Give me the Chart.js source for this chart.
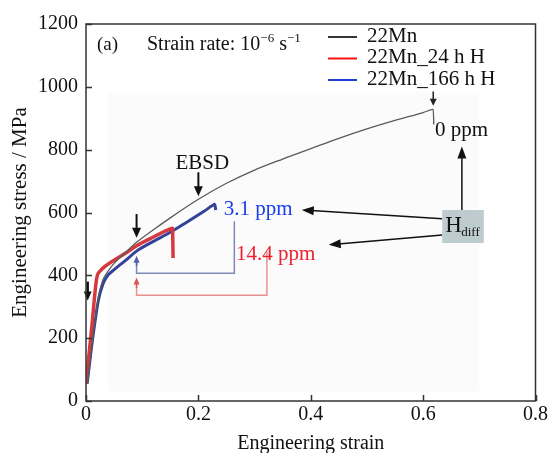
<!DOCTYPE html>
<html>
<head>
<meta charset="utf-8">
<script src="https://cdn.jsdelivr.net/npm/chart.js@4.4.1/dist/chart.umd.min.js"></script>
<style>
html,body{margin:0;padding:0;background:#fff;}
#wrap{width:550px;height:453px;}
</style>
</head>
<body>
<div id="wrap"><canvas id="c" width="550" height="453"></canvas></div>
<script>
// ---- data ----
const seriesNames = ['22Mn', '22Mn_24 h H', '22Mn_166 h H'];
const strain22Mn = [0.003, 0.012, 0.022, 0.03, 0.038, 0.05, 0.07, 0.09, 0.12, 0.15, 0.2, 0.25, 0.3, 0.35, 0.4, 0.45, 0.5, 0.55, 0.6, 0.618, 0.619];
const stress22Mn = [60, 200, 330, 385, 410, 438, 472, 505, 545, 583, 642, 693, 735, 770, 803, 836, 866, 893, 918, 928, 880];
const strain24h = [0.0, 0.01, 0.019, 0.026, 0.035, 0.05, 0.07, 0.09, 0.12, 0.15, 0.154, 0.155];
const stress24h = [55, 230, 390, 415, 430, 448, 470, 494, 522, 548, 550, 455];
const strain166h = [0.002, 0.012, 0.022, 0.03, 0.038, 0.05, 0.07, 0.09, 0.12, 0.15, 0.18, 0.21, 0.225, 0.229, 0.231];
const stress166h = [55, 200, 320, 372, 398, 418, 447, 477, 508, 537, 570, 604, 622, 626, 608];
const xTicks = [0, 0.2, 0.4, 0.6, 0.8];
const yTicks = [0, 200, 400, 600, 800, 1000, 1200];
const hContent = ['0 ppm', '3.1 ppm', '14.4 ppm'];

const toPts = (xs, ys) => xs.map((x, i) => ({x: x, y: ys[i]}));
const SERIF = '"Liberation Serif", "Times New Roman", serif';

function arrow(ctx, x1, y1, x2, y2, color, lw, hl, hw) {
  const a = Math.atan2(y2 - y1, x2 - x1);
  ctx.save();
  ctx.strokeStyle = color; ctx.fillStyle = color; ctx.lineWidth = lw;
  ctx.beginPath();
  ctx.moveTo(x1, y1);
  ctx.lineTo(x2 - Math.cos(a) * hl * 0.8, y2 - Math.sin(a) * hl * 0.8);
  ctx.stroke();
  ctx.beginPath();
  ctx.moveTo(x2, y2);
  ctx.lineTo(x2 - Math.cos(a) * hl + Math.sin(a) * hw, y2 - Math.sin(a) * hl - Math.cos(a) * hw);
  ctx.lineTo(x2 - Math.cos(a) * hl - Math.sin(a) * hw, y2 - Math.sin(a) * hl + Math.cos(a) * hw);
  ctx.closePath();
  ctx.fill();
  ctx.restore();
}

const decor = {
  id: 'decor',
  beforeDatasetsDraw(chart) {
    const {ctx, scales: {x, y}} = chart;
    ctx.save();
    ctx.fillStyle = '#fbfbfb';
    const l = x.getPixelForValue(0.04), r = x.getPixelForValue(0.7);
    const t = y.getPixelForValue(980), b = y.getPixelForValue(30);
    ctx.fillRect(l, t, r - l, b - t);
    ctx.restore();
  },
  afterDatasetsDraw(chart) {
    const {ctx, scales: {x, y}} = chart;
    const X = v => x.getPixelForValue(v), Y = v => y.getPixelForValue(v);
    ctx.save();
    // brackets
    ctx.lineWidth = 1.5;
    ctx.strokeStyle = '#8088b8';
    ctx.beginPath();
    ctx.moveTo(X(0.09), Y(450)); ctx.lineTo(X(0.09), Y(407)); ctx.lineTo(X(0.264), Y(407)); ctx.lineTo(X(0.264), Y(572));
    ctx.stroke();
    arrow(ctx, X(0.09), Y(430), X(0.09), Y(462), '#5060a8', 1.5, 7, 3);
    ctx.strokeStyle = '#e89090';
    ctx.beginPath();
    ctx.moveTo(X(0.09), Y(380)); ctx.lineTo(X(0.09), Y(337)); ctx.lineTo(X(0.322), Y(337)); ctx.lineTo(X(0.322), Y(476));
    ctx.stroke();
    arrow(ctx, X(0.09), Y(360), X(0.09), Y(393), '#d85858', 1.5, 7, 3);
    // black arrows
    arrow(ctx, X(0.2), Y(728), X(0.2), Y(652), '#111', 2, 10, 4.5);
    arrow(ctx, X(0.09), Y(595), X(0.09), Y(520), '#111', 2, 10, 4.5);
    arrow(ctx, X(0.618), Y(985), X(0.618), Y(940), '#222', 1.5, 7, 3.5);
    arrow(ctx, X(0.003), Y(380), X(0.003), Y(320), '#111', 2.5, 9, 4);
    // Hdiff arrows
    arrow(ctx, X(0.634), Y(580), X(0.384), Y(608), '#111', 1.5, 12, 4.5);
    arrow(ctx, X(0.634), Y(528), X(0.432), Y(497), '#111', 1.5, 12, 4.5);
    arrow(ctx, X(0.669), Y(608), X(0.669), Y(810), '#111', 1.5, 12, 4.5);
    // Hdiff box
    ctx.fillStyle = '#bfcccf';
    ctx.fillRect(X(0.634), Y(608), X(0.708) - X(0.634), Y(503) - Y(608));
    ctx.fillStyle = '#111';
    ctx.textBaseline = 'alphabetic';
    ctx.font = '23px ' + SERIF;
    ctx.fillText('H', X(0.634) + 3, Y(538));
    ctx.font = '13px ' + SERIF;
    ctx.fillText('diff', X(0.634) + 19, Y(526));
    // labels
    ctx.font = '21px ' + SERIF;
    ctx.fillStyle = '#111';
    ctx.fillText(hContent[0], X(0.621), Y(842));
    ctx.fillStyle = '#1a3cf0';
    ctx.fillText(hContent[1], X(0.245), Y(592));
    ctx.fillStyle = '#f02030';
    ctx.fillText(hContent[2], X(0.267), Y(449));
    ctx.fillStyle = '#111';
    ctx.textAlign = 'center';
    ctx.fillText('EBSD', X(0.207), Y(740));
    ctx.restore();
  },
  afterDraw(chart) {
    const {ctx, chartArea: a, scales: {x, y}} = chart;
    ctx.save();
    ctx.strokeStyle = '#333';
    ctx.lineWidth = 1.5;
    ctx.strokeRect(a.left, a.top, a.right - a.left, a.bottom - a.top);
    ctx.beginPath();
    yTicks.forEach(v => { const py = Math.round(y.getPixelForValue(v)) + 0.5; ctx.moveTo(a.left, py); ctx.lineTo(a.left + 6, py); });
    xTicks.forEach(v => { const px = Math.round(x.getPixelForValue(v)) + 0.5; ctx.moveTo(px, a.bottom); ctx.lineTo(px, a.bottom - 6); });
    ctx.stroke();
    // panel label & strain rate
    ctx.fillStyle = '#111';
    ctx.textBaseline = 'alphabetic';
    ctx.font = '19px ' + SERIF;
    ctx.fillText('(a)', a.left + 11, 50);
    let tx = a.left + 61;
    const ty = 50;
    const seg = (s, f, dy) => { ctx.font = f; ctx.fillText(s, tx, ty + dy); tx += ctx.measureText(s).width; };
    seg('Strain rate: 10', '20px ' + SERIF, 0);
    seg('\u22126', '13px ' + SERIF, -8);
    seg(' s', '20px ' + SERIF, 0);
    seg('\u22121', '13px ' + SERIF, -8);
    // legend
    const cols = ['#333333', '#ff1010', '#2040d0'];
    ctx.font = '21px ' + SERIF;
    ctx.textBaseline = 'middle';
    seriesNames.forEach((n, i) => {
      const ly = a.top + 13 + i * 21.5;
      ctx.strokeStyle = cols[i]; ctx.lineWidth = 2;
      ctx.beginPath(); ctx.moveTo(328, ly); ctx.lineTo(357, ly); ctx.stroke();
      ctx.fillStyle = '#111';
      ctx.fillText(n, 367, ly - 1);
    });
    ctx.restore();
  }
};

new Chart(document.getElementById('c'), {
  type: 'line',
  data: {
    datasets: [
      {label: seriesNames[2], data: toPts(strain166h, stress166h), borderColor: '#34439a', borderWidth: 3, pointRadius: 0, cubicInterpolationMode: 'monotone', order: 3},
      {label: seriesNames[1], data: toPts(strain24h, stress24h), borderColor: '#d6383e', borderWidth: 3.5, pointRadius: 0, cubicInterpolationMode: 'monotone', order: 2},
      {label: seriesNames[0], data: toPts(strain22Mn, stress22Mn), borderColor: '#5a5a5a', borderWidth: 1.3, pointRadius: 0, cubicInterpolationMode: 'monotone', order: 1}
    ]
  },
  options: {
    responsive: false,
    animation: false,
    devicePixelRatio: 1,
    layout: {padding: {top: 24, right: 12, left: 0, bottom: 0}},
    plugins: {legend: {display: false}, tooltip: {enabled: false}},
    scales: {
      x: {
        type: 'linear', min: 0, max: 0.8,
        afterBuildTicks: s => { s.ticks = xTicks.map(v => ({value: v})); },
        afterFit: s => { s.height = 52; },
        grid: {display: false, drawTicks: false},
        border: {display: false},
        ticks: {color: '#111', font: {family: SERIF, size: 20}, padding: 2, maxRotation: 0,
          callback: v => (v === 0 ? '0' : String(+v.toFixed(1)))},
        title: {display: true, text: 'Engineering strain', color: '#111', font: {family: SERIF, size: 20}, padding: {top: 0, bottom: -3}}
      },
      y: {
        type: 'linear', min: 0, max: 1200,
        afterBuildTicks: s => { s.ticks = yTicks.map(v => ({value: v})); },
        afterFit: s => { s.width = 86; },
        grid: {display: false, drawTicks: false},
        border: {display: false},
        ticks: {color: '#111', font: {family: SERIF, size: 20}, padding: 8, callback: v => String(v)},
        title: {display: true, text: 'Engineering stress / MPa', color: '#111', font: {family: SERIF, size: 21}, padding: {top: 8, bottom: 0}}
      }
    }
  },
  plugins: [decor]
});
</script>
</body>
</html>
